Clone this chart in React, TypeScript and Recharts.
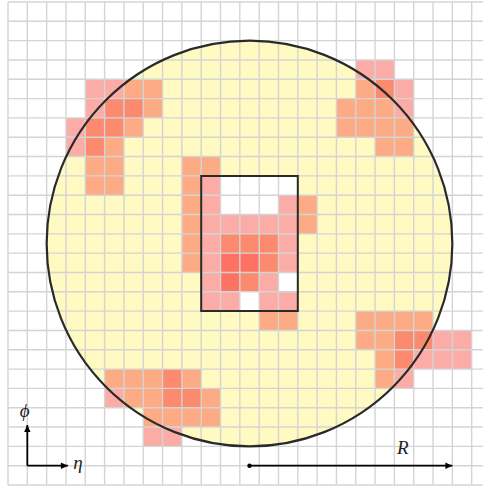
import React from "react";
import {
  ComposedChart,
  XAxis,
  YAxis,
  ReferenceArea,
  ReferenceDot,
  ReferenceLine,
  Scatter,
} from "recharts";

// grid of 25 x 25 cells in (eta column, phi row) units; row 0 at the top
const N_COLS = 25;
const N_ROWS = 25;

// cone (circle) centre and radius, in cell units
const CONE_CENTER = { x: 12.5, y: 12.5 };
const CONE_RADIUS = 10.5;

// jet-finding window (rectangle), in cell units
const WINDOW = { x1: 10, x2: 15, y1: 9, y2: 16 };

// energy deposits by level: [column, row]
const level1Cells: [number, number][] = [
  [4, 4], [5, 4], [4, 5], [3, 6], [3, 7],
  [18, 3], [19, 3], [20, 4], [20, 5],
  [10, 9], [10, 10], [14, 10], [10, 11], [11, 11], [12, 11], [13, 11], [14, 11],
  [10, 12], [14, 12], [10, 13], [14, 13], [10, 14], [13, 14], [10, 15], [11, 15],
  [13, 15], [14, 15],
  [22, 17], [23, 17], [21, 18], [22, 18], [23, 18], [20, 19],
  [5, 20], [7, 22], [8, 22],
];
const level2Cells: [number, number][] = [
  [6, 4], [7, 4], [7, 5], [6, 6], [5, 7], [4, 8], [5, 8], [4, 9], [5, 9],
  [18, 4], [17, 5], [18, 5], [19, 5], [17, 6], [18, 6], [19, 6], [20, 6], [19, 7], [20, 7],
  [9, 8], [10, 8], [9, 9], [9, 10], [15, 10], [9, 11], [15, 11], [9, 12], [9, 13],
  [13, 16], [14, 16],
  [18, 16], [19, 16], [20, 16], [21, 16], [18, 17], [19, 17], [19, 18], [19, 19],
  [5, 19], [6, 19], [7, 19], [9, 19], [6, 20], [7, 20], [10, 20], [7, 21], [8, 21],
  [9, 21], [10, 21],
];
const level3Cells: [number, number][] = [
  [5, 5], [6, 5], [4, 6], [5, 6], [4, 7],
  [19, 4],
  [11, 12], [12, 12], [13, 12], [13, 13], [12, 14],
  [20, 17], [21, 17], [20, 18],
  [8, 19], [8, 20], [9, 20],
];
const level4Cells: [number, number][] = [
  [11, 13], [12, 13], [11, 14],
];

// axis-direction arrows and the radius arrow (cell units)
const ETA_ARROW = { from: { x: 1, y: 24 }, to: { x: 3.1, y: 24 } };
const PHI_ARROW = { from: { x: 1, y: 24 }, to: { x: 1, y: 21.9 } };
const R_ARROW = { from: { x: 12.5, y: 24 }, to: { x: 23, y: 24 } };

const arrowHeads = [
  { x: ETA_ARROW.to.x, y: ETA_ARROW.to.y, dir: "right" },
  { x: PHI_ARROW.to.x, y: PHI_ARROW.to.y, dir: "up" },
  { x: R_ARROW.to.x, y: R_ARROW.to.y, dir: "right" },
  { x: R_ARROW.from.x, y: R_ARROW.from.y, dir: "dot" },
];

const labels = [
  { x: 0.86, y: 21.5, text: "\u03D5" },
  { x: 3.62, y: 24.17, text: "\u03B7" },
  { x: 20.44, y: 23.42, text: "R" },
];

const LEVEL_COLORS = ["#fcaca6", "#fcab84", "#fc8a6e", "#fd7262"];
const YELLOW = "#fefac1";
const GRID = "#d4d4d4";
const INK = "#2a2a2a";

const W = 492;
const H = 489;
const MARGIN = { top: 2, right: 1, bottom: 4, left: 8 };
const CELL = (W - MARGIN.left - MARGIN.right) / N_COLS;

const gridX = Array.from({ length: N_COLS + 1 }, (_, i) => i);
const gridY = Array.from({ length: N_ROWS + 1 }, (_, i) => i);

const ArrowShape = (props: any) => {
  const { cx, cy, payload } = props;
  if (cx == null || cy == null) return null;
  if (payload.dir === "dot") return <circle cx={cx} cy={cy} r={2.2} fill="#000" />;
  if (payload.dir === "up")
    return (
      <polygon
        points={`${cx},${cy} ${cx - 3.2},${cy + 7} ${cx + 3.2},${cy + 7}`}
        fill="#000"
      />
    );
  return (
    <polygon
      points={`${cx},${cy} ${cx - 7},${cy - 3.2} ${cx - 7},${cy + 3.2}`}
      fill="#000"
    />
  );
};

const LabelShape = (props: any) => {
  const { cx, cy, payload } = props;
  if (cx == null || cy == null) return null;
  return (
    <text
      x={cx}
      y={cy}
      textAnchor="middle"
      fontFamily="'Liberation Serif', 'DejaVu Serif', serif"
      fontStyle="italic"
      fontSize={19}
      fill="#222"
    >
      {payload.text}
    </text>
  );
};

export default function App() {
  const cellAreas = (cells: [number, number][], color: string, key: string) =>
    cells.map(([c, r]) => (
      <ReferenceArea
        key={`${key}-${c}-${r}`}
        x1={c}
        x2={c + 1}
        y1={r}
        y2={r + 1}
        fill={color}
        fillOpacity={1}
        stroke="none"
        zIndex={3}
        ifOverflow="visible"
      />
    ));

  return (
    <div
      style={{
        position: "absolute",
        left: 0,
        top: 0,
        width: 483,
        height: 489,
        overflow: "hidden",
        background: "#fff",
      }}
    >
      <ComposedChart width={W} height={H} margin={MARGIN}>
        <XAxis type="number" dataKey="x" domain={[0, N_COLS]} hide allowDataOverflow />
        <YAxis type="number" dataKey="y" domain={[0, N_ROWS]} reversed hide allowDataOverflow />

        <ReferenceDot
          x={CONE_CENTER.x}
          y={CONE_CENTER.y}
          r={CONE_RADIUS * CELL}
          fill={YELLOW}
          stroke="none"
          zIndex={1}
          ifOverflow="visible"
        />
        <ReferenceArea
          x1={WINDOW.x1}
          x2={WINDOW.x2}
          y1={WINDOW.y1}
          y2={WINDOW.y2}
          fill="#ffffff"
          fillOpacity={1}
          stroke="none"
          zIndex={2}
          ifOverflow="visible"
        />

        {cellAreas(level1Cells, LEVEL_COLORS[0], "l1")}
        {cellAreas(level2Cells, LEVEL_COLORS[1], "l2")}
        {cellAreas(level3Cells, LEVEL_COLORS[2], "l3")}
        {cellAreas(level4Cells, LEVEL_COLORS[3], "l4")}

        {gridX.map((x) => (
          <ReferenceLine key={`gx${x}`} x={x} stroke={GRID} strokeWidth={1.4} zIndex={4} ifOverflow="visible" />
        ))}
        {gridY.map((y) => (
          <ReferenceLine key={`gy${y}`} y={y} stroke={GRID} strokeWidth={1.4} zIndex={4} ifOverflow="visible" />
        ))}

        <ReferenceArea
          x1={WINDOW.x1}
          x2={WINDOW.x2}
          y1={WINDOW.y1}
          y2={WINDOW.y2}
          fill="none"
          stroke={INK}
          strokeWidth={2}
          zIndex={5}
          ifOverflow="visible"
        />
        <ReferenceDot
          x={CONE_CENTER.x}
          y={CONE_CENTER.y}
          r={CONE_RADIUS * CELL}
          fill="none"
          stroke={INK}
          strokeWidth={2.2}
          zIndex={5}
          ifOverflow="visible"
        />

        {[ETA_ARROW, PHI_ARROW, R_ARROW].map((a, i) => (
          <ReferenceLine
            key={`arrow${i}`}
            segment={[a.from, a.to]}
            stroke="#000"
            strokeWidth={1.8}
            zIndex={6}
            ifOverflow="visible"
          />
        ))}

        <Scatter data={arrowHeads} shape={ArrowShape} isAnimationActive={false} zIndex={7} />
        <Scatter data={labels} shape={LabelShape} isAnimationActive={false} zIndex={7} />
      </ComposedChart>
    </div>
  );
}
